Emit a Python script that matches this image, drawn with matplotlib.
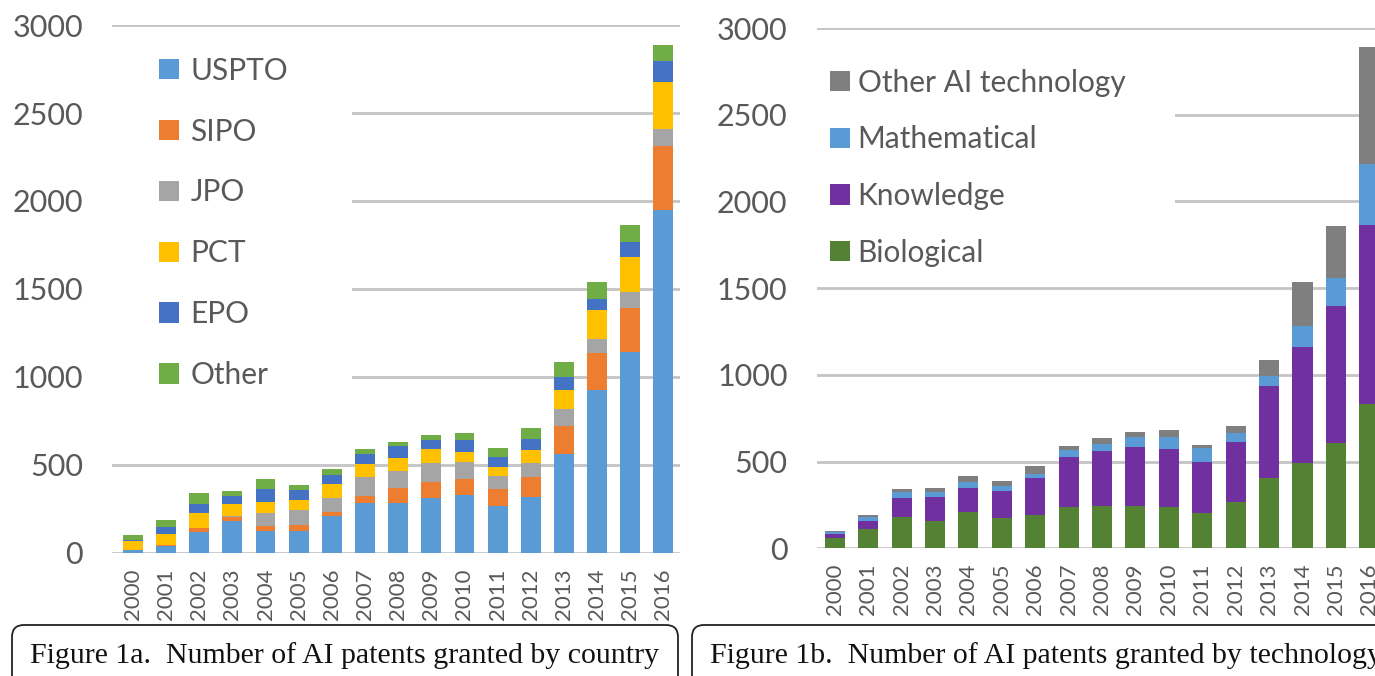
import numpy as np
import matplotlib
matplotlib.use('Agg')
import matplotlib.pyplot as plt
from matplotlib.patches import Rectangle, FancyBboxPatch

years = [str(y) for y in range(2000, 2017)]

# Figure 1a - by country (office)
uspto = [19, 38, 120, 181, 124, 124, 209, 285, 283, 313, 330, 268, 317, 560, 928, 1141, 1947]
sipo = [0, 10, 23, 24, 32, 34, 25, 38, 85, 93, 89, 94, 117, 164, 210, 250, 366]
jpo = [0, 0, 0, 4, 72, 85, 76, 109, 100, 107, 96, 78, 79, 95, 76, 90, 96]
pct = [51, 62, 85, 67, 61, 57, 80, 72, 70, 78, 60, 51, 72, 109, 166, 203, 266]
epo = [5, 36, 48, 47, 72, 56, 53, 57, 71, 51, 67, 52, 60, 70, 62, 82, 120]
other = [26, 44, 66, 29, 57, 28, 32, 28, 23, 28, 37, 55, 63, 88, 96, 96, 90]
country_names = ['USPTO', 'SIPO', 'JPO', 'PCT', 'EPO', 'Other']
country_colors = ['#5B9BD5', '#ED7D31', '#A5A5A5', '#FFC000', '#4472C4', '#70AD47']

# Figure 1b - by technology
biological = [58, 110, 178, 158, 207, 174, 191, 239, 244, 244, 235, 202, 269, 407, 490, 607, 833]
knowledge = [23, 48, 112, 139, 140, 158, 214, 286, 314, 339, 338, 298, 346, 529, 673, 788, 1033]
mathematical = [10, 23, 36, 29, 33, 29, 24, 43, 44, 57, 71, 77, 48, 58, 116, 161, 349]
other_ai = [9, 10, 16, 21, 35, 29, 44, 21, 36, 33, 39, 19, 43, 91, 258, 304, 673]
tech_names = ['Biological', 'Knowledge', 'Mathematical', 'Other AI technology']
tech_colors = ['#548235', '#7030A0', '#5B9BD5', '#7F7F7F']

plt.rcParams['font.family'] = ['Lato', 'DejaVu Sans']
txt_color = '#595959'
grid_color = '#C4C4C4'

fig = plt.figure(figsize=(13.75, 6.76), dpi=100)
ax1 = fig.add_axes([0.0815, 0.182, 0.413, 0.781])
ax2 = fig.add_axes([0.594, 0.189, 0.406, 0.7695])


def stacked(ax, series, names, colors):
    x = np.arange(len(years))
    bottom = np.zeros(len(years))
    handles = []
    for vals, name, col in zip(series, names, colors):
        b = ax.bar(x, vals, 0.6, bottom=bottom, color=col, label=name, zorder=3)
        bottom += np.array(vals)
        handles.append(b)
    ax.set_xticks(x)
    ax.set_xticklabels(years, rotation=90, fontsize=16, color=txt_color)
    ax.set_ylim(0, 3000)
    ax.set_yticks(np.arange(0, 3001, 500))
    ax.tick_params(axis='y', length=0, pad=21, labelsize=22, labelcolor=txt_color)
    ax.tick_params(axis='x', length=0, pad=11)
    ax.grid(axis='y', color=grid_color, linewidth=2, zorder=0)
    ax.set_axisbelow(True)
    for s in ax.spines.values():
        s.set_visible(False)
    return handles


h1 = stacked(ax1, [uspto, sipo, jpo, pct, epo, other], country_names, country_colors)
ax1.set_xlim(-0.63, 16.5)
ax1.add_patch(Rectangle((0, 0.299), 0.4225, 0.69, transform=ax1.transAxes,
                        facecolor='white', edgecolor='none', zorder=1))
ax1.legend(h1, country_names, loc='upper left', bbox_to_anchor=(0.083, 0.94),
           frameon=False, fontsize=21.5, labelcolor=txt_color,
           handlelength=0.67, handleheight=0.67, handletextpad=0.37,
           labelspacing=1.1, borderpad=0, borderaxespad=0)

h2 = stacked(ax2, [biological, knowledge, mathematical, other_ai], tech_names, tech_colors)
ax2.set_xlim(-0.54, 16.17)
ax2.add_patch(Rectangle((0, 0.515), 0.6416, 0.47, transform=ax2.transAxes,
                        facecolor='white', edgecolor='none', zorder=1))
ax2.legend(h2[::-1], tech_names[::-1], loc='upper left', bbox_to_anchor=(0.023, 0.922),
           frameon=False, fontsize=21.5, labelcolor=txt_color,
           handlelength=0.67, handleheight=0.67, handletextpad=0.27,
           labelspacing=0.96, borderpad=0, borderaxespad=0)

# caption boxes (inches, measured from bottom-left)
for x0, w in [(0.12, 6.66), (6.92, 7.2)]:
    fig.patches.append(FancyBboxPatch((x0, -0.3), w, 0.81,
                                      boxstyle='round,pad=0,rounding_size=0.12',
                                      transform=fig.dpi_scale_trans,
                                      facecolor='white', edgecolor='#222222', linewidth=1.3))
fig.text(0.30 / 13.75, 0.20 / 6.76, 'Figure 1a.  Number of AI patents granted by country',
         family='Liberation Serif', fontsize=21.5, color='#111111', va='center', ha='left')
fig.text(7.10 / 13.75, 0.20 / 6.76, 'Figure 1b.  Number of AI patents granted by technology',
         family='Liberation Serif', fontsize=21.5, color='#111111', va='center', ha='left')

fig.savefig('out.png', dpi=100)
